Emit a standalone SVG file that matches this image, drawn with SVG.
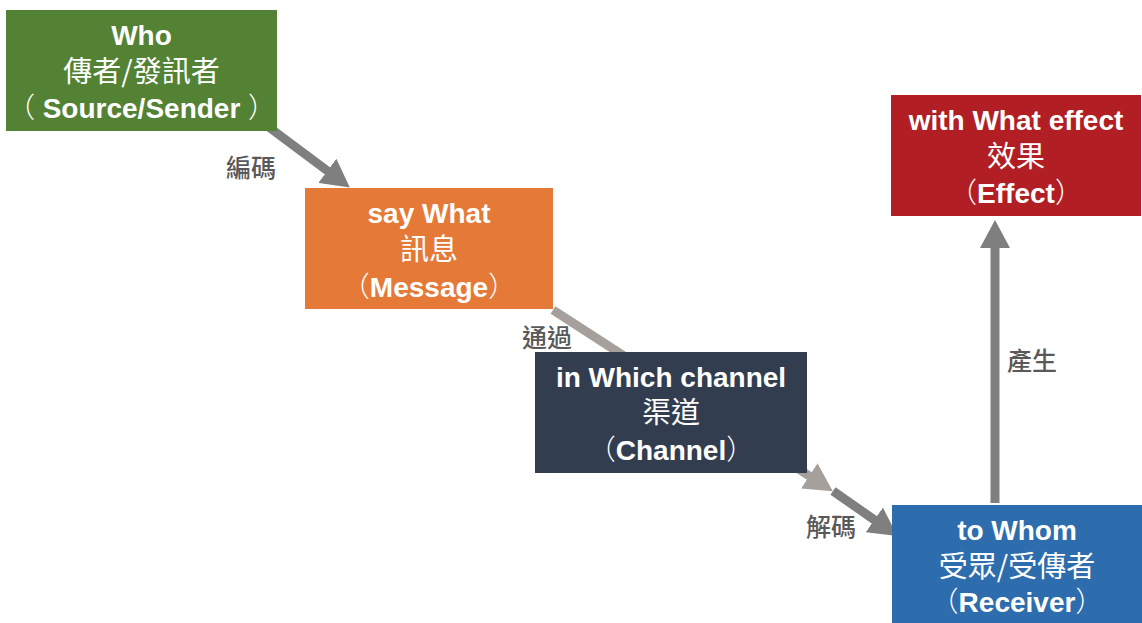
<svg xmlns="http://www.w3.org/2000/svg" width="1142" height="623" viewBox="0 0 1142 623">
<style>
.en{font-family:"Liberation Sans",Arial,sans-serif;font-weight:bold;font-size:28px;fill:#fff;text-anchor:middle}
.zh{font-family:"Noto Sans CJK TC","Noto Sans CJK SC",sans-serif;font-size:29px;fill:#fff;text-anchor:middle}
.p{font-family:"Noto Sans CJK TC","Noto Sans CJK SC",sans-serif;font-weight:300}
.lbl{font-family:"Noto Sans CJK TC","Noto Sans CJK SC",sans-serif;font-size:25px;font-weight:500;fill:#595959}
.ln{fill:none;stroke:#7f7f7f;stroke-width:9}
.ln2{fill:none;stroke:#a6a09d;stroke-width:9}
</style>
<defs>
<marker id="ah" markerUnits="userSpaceOnUse" markerWidth="28" markerHeight="30" viewBox="0 0 28 30" refX="2" refY="15" orient="auto"><path d="M0,0 L28,15 L0,30 z" fill="#7f7f7f"/></marker>
<marker id="ah2" markerUnits="userSpaceOnUse" markerWidth="28" markerHeight="30" viewBox="0 0 28 30" refX="2" refY="15" orient="auto"><path d="M0,0 L28,15 L0,30 z" fill="#a6a09d"/></marker>
</defs>
<rect width="1142" height="623" fill="#fff"/>
<g id="connectors">
<line class="ln" x1="262" y1="122" x2="329" y2="172" marker-end="url(#ah)"/>
<line class="ln2" x1="553" y1="310" x2="811" y2="477" marker-end="url(#ah2)"/>
<line class="ln" x1="833" y1="491" x2="876" y2="521" marker-end="url(#ah)"/>
<line class="ln" x1="995" y1="503" x2="995" y2="246" marker-end="url(#ah)"/>
<text class="lbl" x="226" y="177">編碼</text>
<text class="lbl" x="522" y="347">通過</text>
<text class="lbl" x="806" y="536">解碼</text>
<text class="lbl" x="1007" y="370">產生</text>
</g>
<g id="who">
<rect x="6" y="10" width="271" height="121" fill="#548235"/>
<text class="en" x="141.5" y="45">Who</text>
<text class="zh" x="141.5" y="82">傳者/發訊者</text>
<text class="en" x="141.5" y="118"><tspan class="p">（</tspan> Source/Sender <tspan class="p">）</tspan></text>
</g>
<g id="message">
<rect x="305" y="188" width="248" height="121" fill="#e57a38"/>
<text class="en" x="429" y="223">say What</text>
<text class="zh" x="429" y="260">訊息</text>
<text class="en" x="429" y="297"><tspan class="p">（</tspan>Message<tspan class="p">）</tspan></text>
</g>
<g id="channel">
<rect x="535" y="352" width="272" height="121" fill="#323e4f"/>
<text class="en" x="671" y="387">in Which channel</text>
<text class="zh" x="671" y="423">渠道</text>
<text class="en" x="671" y="460"><tspan class="p">（</tspan>Channel<tspan class="p">）</tspan></text>
</g>
<g id="receiver">
<rect x="892" y="505" width="250" height="118" fill="#2e6dad"/>
<text class="en" x="1017" y="540">to Whom</text>
<text class="zh" x="1017" y="577">受眾/受傳者</text>
<text class="en" x="1017" y="612"><tspan class="p">（</tspan>Receiver<tspan class="p">）</tspan></text>
</g>
<g id="effect">
<rect x="891" y="95" width="250" height="121" fill="#b11f24"/>
<text class="en" x="1016" y="130">with What effect</text>
<text class="zh" x="1016" y="167">效果</text>
<text class="en" x="1016" y="203"><tspan class="p">（</tspan>Effect<tspan class="p">）</tspan></text>
</g>
</svg>
